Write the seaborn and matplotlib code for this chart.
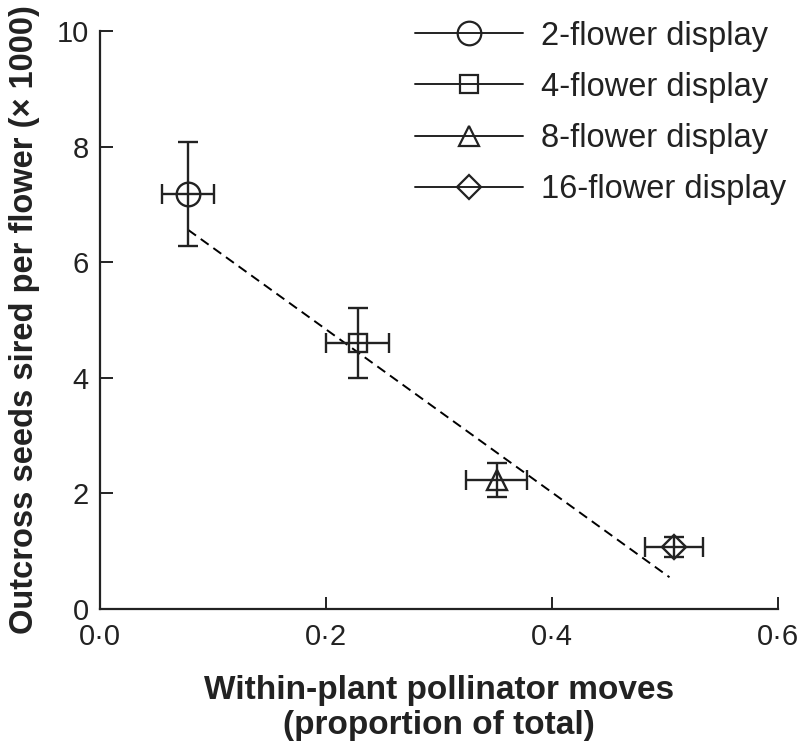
import matplotlib
matplotlib.use('Agg')
import matplotlib.pyplot as plt
from matplotlib import font_manager
from matplotlib.lines import Line2D
import numpy as np
import pandas as pd
import seaborn as sns

# ─── Data ─────────────────────────────────────────────────────────────────────
displays = ['2-flower display', '4-flower display', '8-flower display', '16-flower display']
within_moves = [0.078, 0.228, 0.351, 0.508]
within_err = [0.023, 0.028, 0.027, 0.026]
seeds_sired = [7.18, 4.60, 2.23, 1.07]
seeds_err = [0.90, 0.60, 0.29, 0.17]
fit_x = [0.078, 0.504]
fit_y = [6.56, 0.55]
x_ticks = [0.0, 0.2, 0.4, 0.6]
y_ticks = [0, 2, 4, 6, 8, 10]

marker_map = {'2-flower display': 'o', '4-flower display': 's',
              '8-flower display': '^', '16-flower display': 'D'}
marker_size = {'o': 17, 's': 13, '^': 15, 'D': 12}
INK = '#222222'

sns.set_style('ticks')
installed = {f.name for f in font_manager.fontManager.ttflist}
base_font = 'Liberation Sans' if 'Liberation Sans' in installed else 'DejaVu Sans'
narrow_font = 'Liberation Sans Narrow' if 'Liberation Sans Narrow' in installed else base_font
plt.rcParams['font.family'] = [base_font, 'DejaVu Sans']

df = pd.DataFrame({'display': displays, 'x': within_moves, 'y': seeds_sired,
                   'xerr': within_err, 'yerr': seeds_err})

fig = plt.figure(figsize=(7.98, 7.46), dpi=100)
ax = fig.add_axes([0.1253, 0.1836, 0.8496, 0.7748])

# regression line
sns.lineplot(x=fit_x, y=fit_y, ax=ax, color='black', lw=1.4,
             linestyle=(0, (5, 3)), zorder=2)

# error bars
ax.errorbar(df['x'], df['y'], xerr=df['xerr'], yerr=df['yerr'], fmt='none',
            ecolor=INK, elinewidth=1.7, capsize=7, capthick=1.7, zorder=3)

# hollow markers
for _, r in df.iterrows():
    m = marker_map[r['display']]
    ax.plot(r['x'], r['y'], marker=m, ms=marker_size[m], mfc='none',
            mec=INK, mew=1.7, ls='none', zorder=4)

ax.set_xlim(0, 0.6)
ax.set_ylim(0, 10)
ax.set_xticks(x_ticks)
ax.set_xticklabels([f'{v:.1f}'.replace('.', '\u00b7') for v in x_ticks],
                   fontfamily=narrow_font, fontsize=21)
ax.set_yticks(y_ticks)
ax.set_yticklabels([str(v) for v in y_ticks], fontsize=21)
ax.tick_params(direction='in', length=9, width=1.4, colors=INK, pad=8)
ax.tick_params(axis='x', pad=10)
for s in ['left', 'bottom']:
    ax.spines[s].set_linewidth(1.6)
    ax.spines[s].set_color(INK)
sns.despine(ax=ax)

ax.set_xlabel('Within-plant pollinator moves\n(proportion of total)',
              fontfamily=narrow_font, fontweight='bold', fontsize=24,
              labelpad=17, linespacing=1.2, color=INK)
ax.set_ylabel('Outcross seeds sired per flower (\u00d7 1000)', fontweight='bold',
              fontsize=23.5, labelpad=12, color=INK)

handles = [Line2D([0], [0], color=INK, lw=1.4, marker=marker_map[d],
                  ms=marker_size[marker_map[d]], mfc='none', mec=INK,
                  mew=1.6) for d in displays]
ax.legend(handles, displays, loc='upper right', bbox_to_anchor=(1.012, 1.018),
          frameon=False, fontsize=23.5, handlelength=3.3, handletextpad=0.55,
          labelspacing=0.62, borderpad=0, borderaxespad=0, labelcolor=INK)

fig.savefig('out.png', dpi=100, facecolor='white')
